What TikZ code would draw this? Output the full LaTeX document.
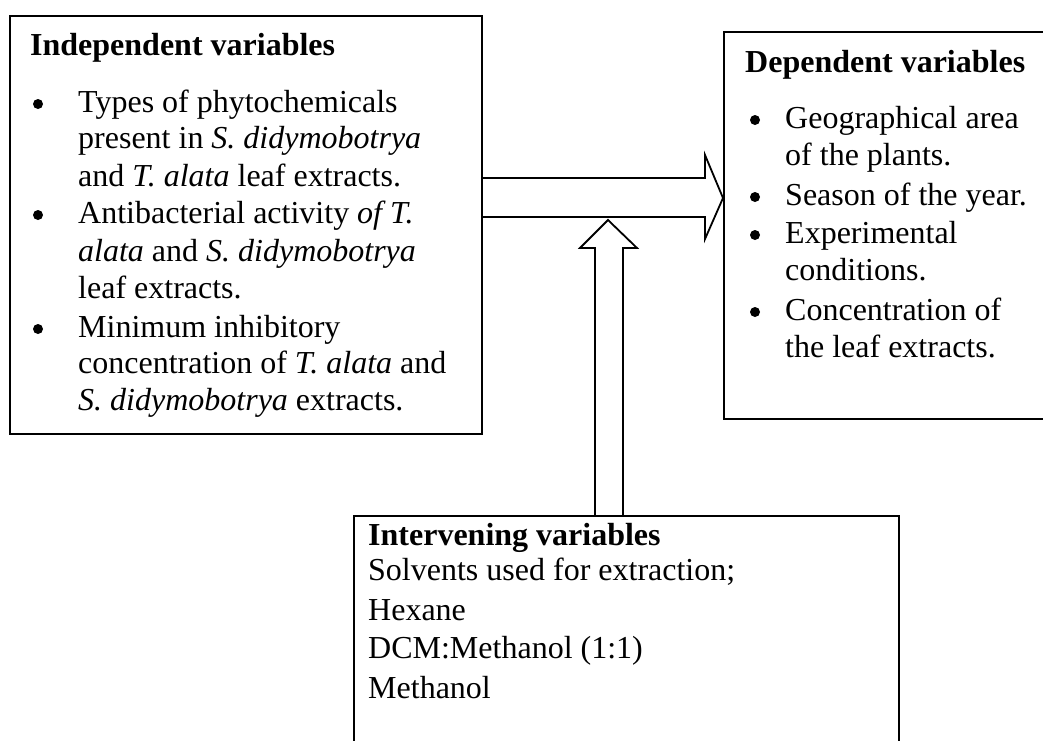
\documentclass[tikz,border=0pt]{standalone}
\usepackage{fontspec}
\setmainfont{Liberation Serif}
\begin{document}
\begin{tikzpicture}[x=1pt,y=-1pt,
  box/.style={draw,line width=1.8pt,anchor=north west,inner sep=0pt},
  txt/.style={anchor=base west,inner sep=0pt,font=\fontsize{32}{38}\selectfont},
  hd/.style={txt,font=\fontsize{32}{38}\selectfont\bfseries},
  bul/.style={circle,fill,inner sep=0pt,minimum size=10pt},
  blockarrow/.style={draw,line width=1.8pt,line join=miter}]
\clip (0,0) rectangle (1043,740);
\useasboundingbox (0,0) rectangle (1043,740);
% boxes
\node[box,minimum width=472pt,minimum height=418pt] (indep) at (9,15) {};
\node[box,minimum width=360pt,minimum height=387pt] (dep) at (723,31) {};
\node[box,minimum width=545pt,minimum height=260pt] (inter) at (353,515) {};
% independent text
\node[hd] (i0) at (30,55) {Independent variables};
\node[bul] (ib1) at (38,104) {};
\node[txt] (i1) at (78,112) {Types of phytochemicals};
\node[txt] (i2) at (78,148) {present in \textit{S. didymobotrya}};
\node[txt] (i3) at (78,186) {and \textit{T. alata} leaf extracts.};
\node[bul] (ib2) at (38,215) {};
\node[txt] (i4) at (78,223) {Antibacterial activity \textit{of T.}};
\node[txt] (i5) at (78,261) {\textit{alata} and \textit{S. didymobotrya}};
\node[txt] (i6) at (78,298) {leaf extracts.};
\node[bul] (ib3) at (38,329) {};
\node[txt] (i7) at (78,337) {Minimum inhibitory};
\node[txt] (i8) at (78,373) {concentration of \textit{T. alata} and};
\node[txt] (i9) at (78,410) {\textit{S. didymobotrya} extracts.};
% dependent text
\node[hd] (d0) at (745,72) {Dependent variables};
\node[bul] (db1) at (755,120) {};
\node[txt] (d1) at (785,128) {Geographical area};
\node[txt] (d2) at (785,165) {of the plants.};
\node[bul] (db2) at (755,197) {};
\node[txt] (d3) at (785,205) {Season of the year.};
\node[bul] (db3) at (755,235) {};
\node[txt] (d4) at (785,243) {Experimental};
\node[txt] (d5) at (785,280) {conditions.};
\node[bul] (db4) at (755,312) {};
\node[txt] (d6) at (785,320) {Concentration of};
\node[txt] (d7) at (785,357) {the leaf extracts.};
% intervening text
\node[hd] (v0) at (368,545) {Intervening variables};
\node[txt] (v1) at (368,580) {Solvents used for extraction;};
\node[txt] (v2) at (368,620) {Hexane};
\node[txt] (v3) at (368,658) {DCM:Methanol (1:1)};
\node[txt] (v4) at (368,698) {Methanol};
% block arrows
\draw[blockarrow] (indep.east |- 0,178) -- (705,178) -- (705,155) -- (dep.west |- 0,198)
  -- (705,239) -- (705,217) -- (indep.east |- 0,217);
\draw[blockarrow] (inter.north -| 595,0) -- (595,248) -- (580,248) -- (608,220)
  -- (637,248) -- (623,248) -- (inter.north -| 623,0);
\end{tikzpicture}
\end{document}
